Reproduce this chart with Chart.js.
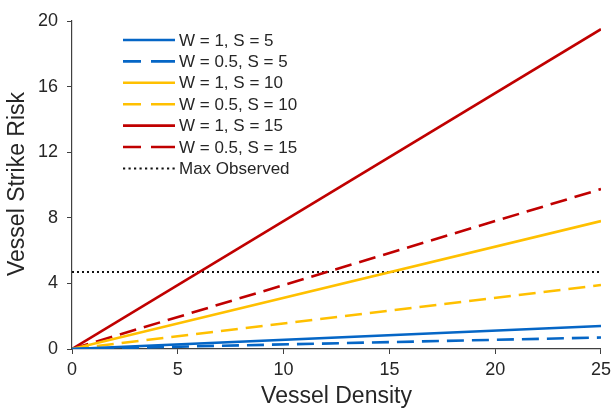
<!DOCTYPE html>
<html>
<head>
<meta charset="utf-8">
<script src="https://cdn.jsdelivr.net/npm/chart.js@4/dist/chart.umd.min.js"></script>
<style>
  html, body { margin: 0; padding: 0; background: #fff; }
  #wrap { width: 616px; height: 410px; }
</style>
</head>
<body>
<div id="wrap"><canvas id="riskChart" width="616" height="410"></canvas></div>
<script>
// data (lines run from density 0 to 25)
const densities = [0, 25];
const riskW1S5 = [0, 1.4];
const riskW05S5 = [0, 0.7];
const riskW1S10 = [0, 7.8];
const riskW05S10 = [0, 3.9];
const riskW1S15 = [0, 19.5];
const riskW05S15 = [0, 9.75];
const maxObserved = [4.7, 4.7];

const seriesLabels = ['W = 1, S = 5', 'W = 0.5, S = 5', 'W = 1, S = 10', 'W = 0.5, S = 10', 'W = 1, S = 15', 'W = 0.5, S = 15', 'Max Observed'];
const xTicks = [0, 5, 10, 15, 20, 25];
const yTicks = [0, 4, 8, 12, 16, 20];

const FONT = '"Liberation Sans", Arial, sans-serif';
const BLUE = '#0566c6';
const GOLD = '#ffc000';
const RED = '#c00000';
const DASH = [17, 8];
const DOTS = [2, 3];

function pts(vals) {
    return densities.map((x, i) => ({ x: x, y: vals[i] }));
}

const datasets = [
    { label: seriesLabels[0], data: pts(riskW1S5), borderColor: BLUE, borderDash: [] },
    { label: seriesLabels[1], data: pts(riskW05S5), borderColor: BLUE, borderDash: DASH },
    { label: seriesLabels[2], data: pts(riskW1S10), borderColor: GOLD, borderDash: [] },
    { label: seriesLabels[3], data: pts(riskW05S10), borderColor: GOLD, borderDash: DASH },
    { label: seriesLabels[4], data: pts(riskW1S15), borderColor: RED, borderDash: [] },
    { label: seriesLabels[5], data: pts(riskW05S15), borderColor: RED, borderDash: DASH },
    { label: seriesLabels[6], data: pts(maxObserved), borderColor: '#111', borderDash: DOTS, borderWidth: 2 }
].map(d => Object.assign({ borderWidth: 2.6, pointRadius: 0, fill: false, tension: 0 }, d));

// legend + axis titles drawn by hand so they sit where the original has them
const overlay = {
    id: 'overlay',
    afterDraw(chart) {
        const ctx = chart.ctx;
        const area = chart.chartArea;
        ctx.save();
        ctx.fillStyle = '#262626';
        ctx.font = '17px ' + FONT;
        ctx.textBaseline = 'middle';
        chart.data.datasets.forEach((ds, i) => {
            const y = 40 + i * 21.4;
            let dash = [];
            if (ds.borderDash === DASH) dash = [18, 10, 30];
            if (ds.borderDash === DOTS) dash = [2.2, 3.3];
            ctx.strokeStyle = ds.borderColor;
            ctx.lineWidth = ds.borderWidth;
            ctx.setLineDash(dash);
            ctx.beginPath();
            ctx.moveTo(123, y);
            ctx.lineTo(175, y);
            ctx.stroke();
            ctx.setLineDash([]);
            ctx.fillText(ds.label, 179, y + 1);
        });

        ctx.font = '23px ' + FONT;
        ctx.textAlign = 'center';
        ctx.fillText('Vessel Density', (area.left + area.right) / 2, 397);
        ctx.translate(18, 184);
        ctx.rotate(-Math.PI / 2);
        ctx.fillText('Vessel Strike Risk', 0, 0);
        ctx.restore();
    }
};

new Chart(document.getElementById('riskChart'), {
    type: 'line',
    data: { datasets: datasets },
    options: {
        responsive: false,
        animation: false,
        layout: { padding: { top: 21, right: 9, left: 0, bottom: 0 } },
        plugins: { legend: { display: false }, tooltip: { enabled: false } },
        scales: {
            x: {
                type: 'linear',
                min: 0,
                max: 25,
                afterBuildTicks: (s) => { s.ticks = xTicks.map(v => ({ value: v })); },
                afterFit: (s) => { s.height = 61; },
                border: { color: '#404040', width: 1.2 },
                grid: { drawOnChartArea: false, drawTicks: true, tickLength: 5, color: '#404040' },
                ticks: { color: '#262626', font: { family: FONT, size: 18 }, padding: 5, maxRotation: 0 }
            },
            y: {
                min: 0,
                max: 20,
                afterBuildTicks: (s) => { s.ticks = yTicks.map(v => ({ value: v })); },
                afterFit: (s) => { s.width = 72; },
                border: { color: '#404040', width: 1.2 },
                grid: { drawOnChartArea: false, drawTicks: true, tickLength: 5, color: '#404040' },
                ticks: { color: '#262626', font: { family: FONT, size: 18 }, padding: 9 }
            }
        }
    },
    plugins: [overlay]
});
</script>
</body>
</html>
